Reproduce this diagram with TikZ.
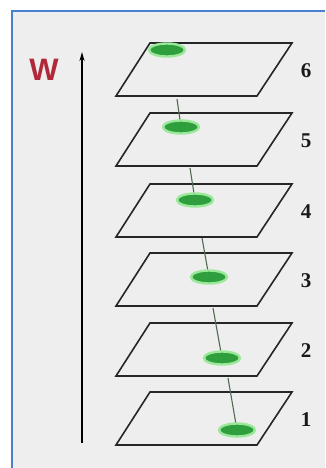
\documentclass[tikz,border=0pt]{standalone}
\usepackage{fontspec}
\setmainfont{Liberation Serif}
\newfontfamily\wfont{Liberation Sans}
\usetikzlibrary{arrows.meta,shapes.geometric}
\definecolor{bgc}{HTML}{EEEEEE}
\definecolor{bordc}{HTML}{4A80D0}
\definecolor{wred}{HTML}{B0283A}
\definecolor{blobc}{HTML}{2F9E3C}
\definecolor{glowc}{HTML}{9BE89B}
\definecolor{linkc}{HTML}{4F6B52}
\tikzset{
  plane/.style={draw=black!85, line width=1.6pt, line join=miter},
  blob/.style={ellipse, fill=blobc, draw=glowc, line width=2.4pt, minimum width=36pt, minimum height=13pt, inner sep=0pt},
  num/.style={font=\fontsize{21}{21}\selectfont\bfseries, text=black!90},
  link/.style={draw=linkc, line width=1.1pt},
}
\begin{document}
\begin{tikzpicture}[x=1pt,y=-1pt]
\useasboundingbox (0,0) rectangle (325,468);
\fill[white] (0,0) rectangle (325,468);
\fill[bgc] (12,11) rectangle (325,468);
\draw[bordc, line width=2pt] (12,468) -- (12,11) -- (325,11);
% axis
\coordinate (a0) at (82,443);
\coordinate (a1) at (82,52);
\draw[line width=1.6pt, -{Stealth[length=9pt,width=5pt]}] (a0) -- (a1);
\node[text=wred, font=\wfont\fontsize{31}{31}\selectfont\bfseries] (W) at (44,70) {W};
% planes
\foreach \k/\t in {6/43,5/113,4/184,3/253,2/323,1/392}{
  \draw[plane] (150,\t) -- (292,\t) -- (257,\t+53) -- (116,\t+53) -- cycle;
  \node[num] (n\k) at (306,\t+28) {\k};
}
% connectors (behind blobs)
\coordinate (c5) at (177,99);
\coordinate (c4) at (190,168);
\coordinate (c3) at (202,238);
\coordinate (c2) at (213,308);
\coordinate (c1) at (228,378);
\coordinate (p6) at (167,50);
\coordinate (p5) at (181,127);
\coordinate (p4) at (195,200);
\coordinate (p3) at (209,277);
\coordinate (p2) at (222,358);
\coordinate (p1) at (237,430);
\foreach \k in {5,4,3,2,1}{ \draw[link] (c\k) -- (p\k); }
% blobs
\foreach \k in {6,5,4,3,2,1}{ \node[blob] (b\k) at (p\k) {}; }
\end{tikzpicture}
\end{document}
